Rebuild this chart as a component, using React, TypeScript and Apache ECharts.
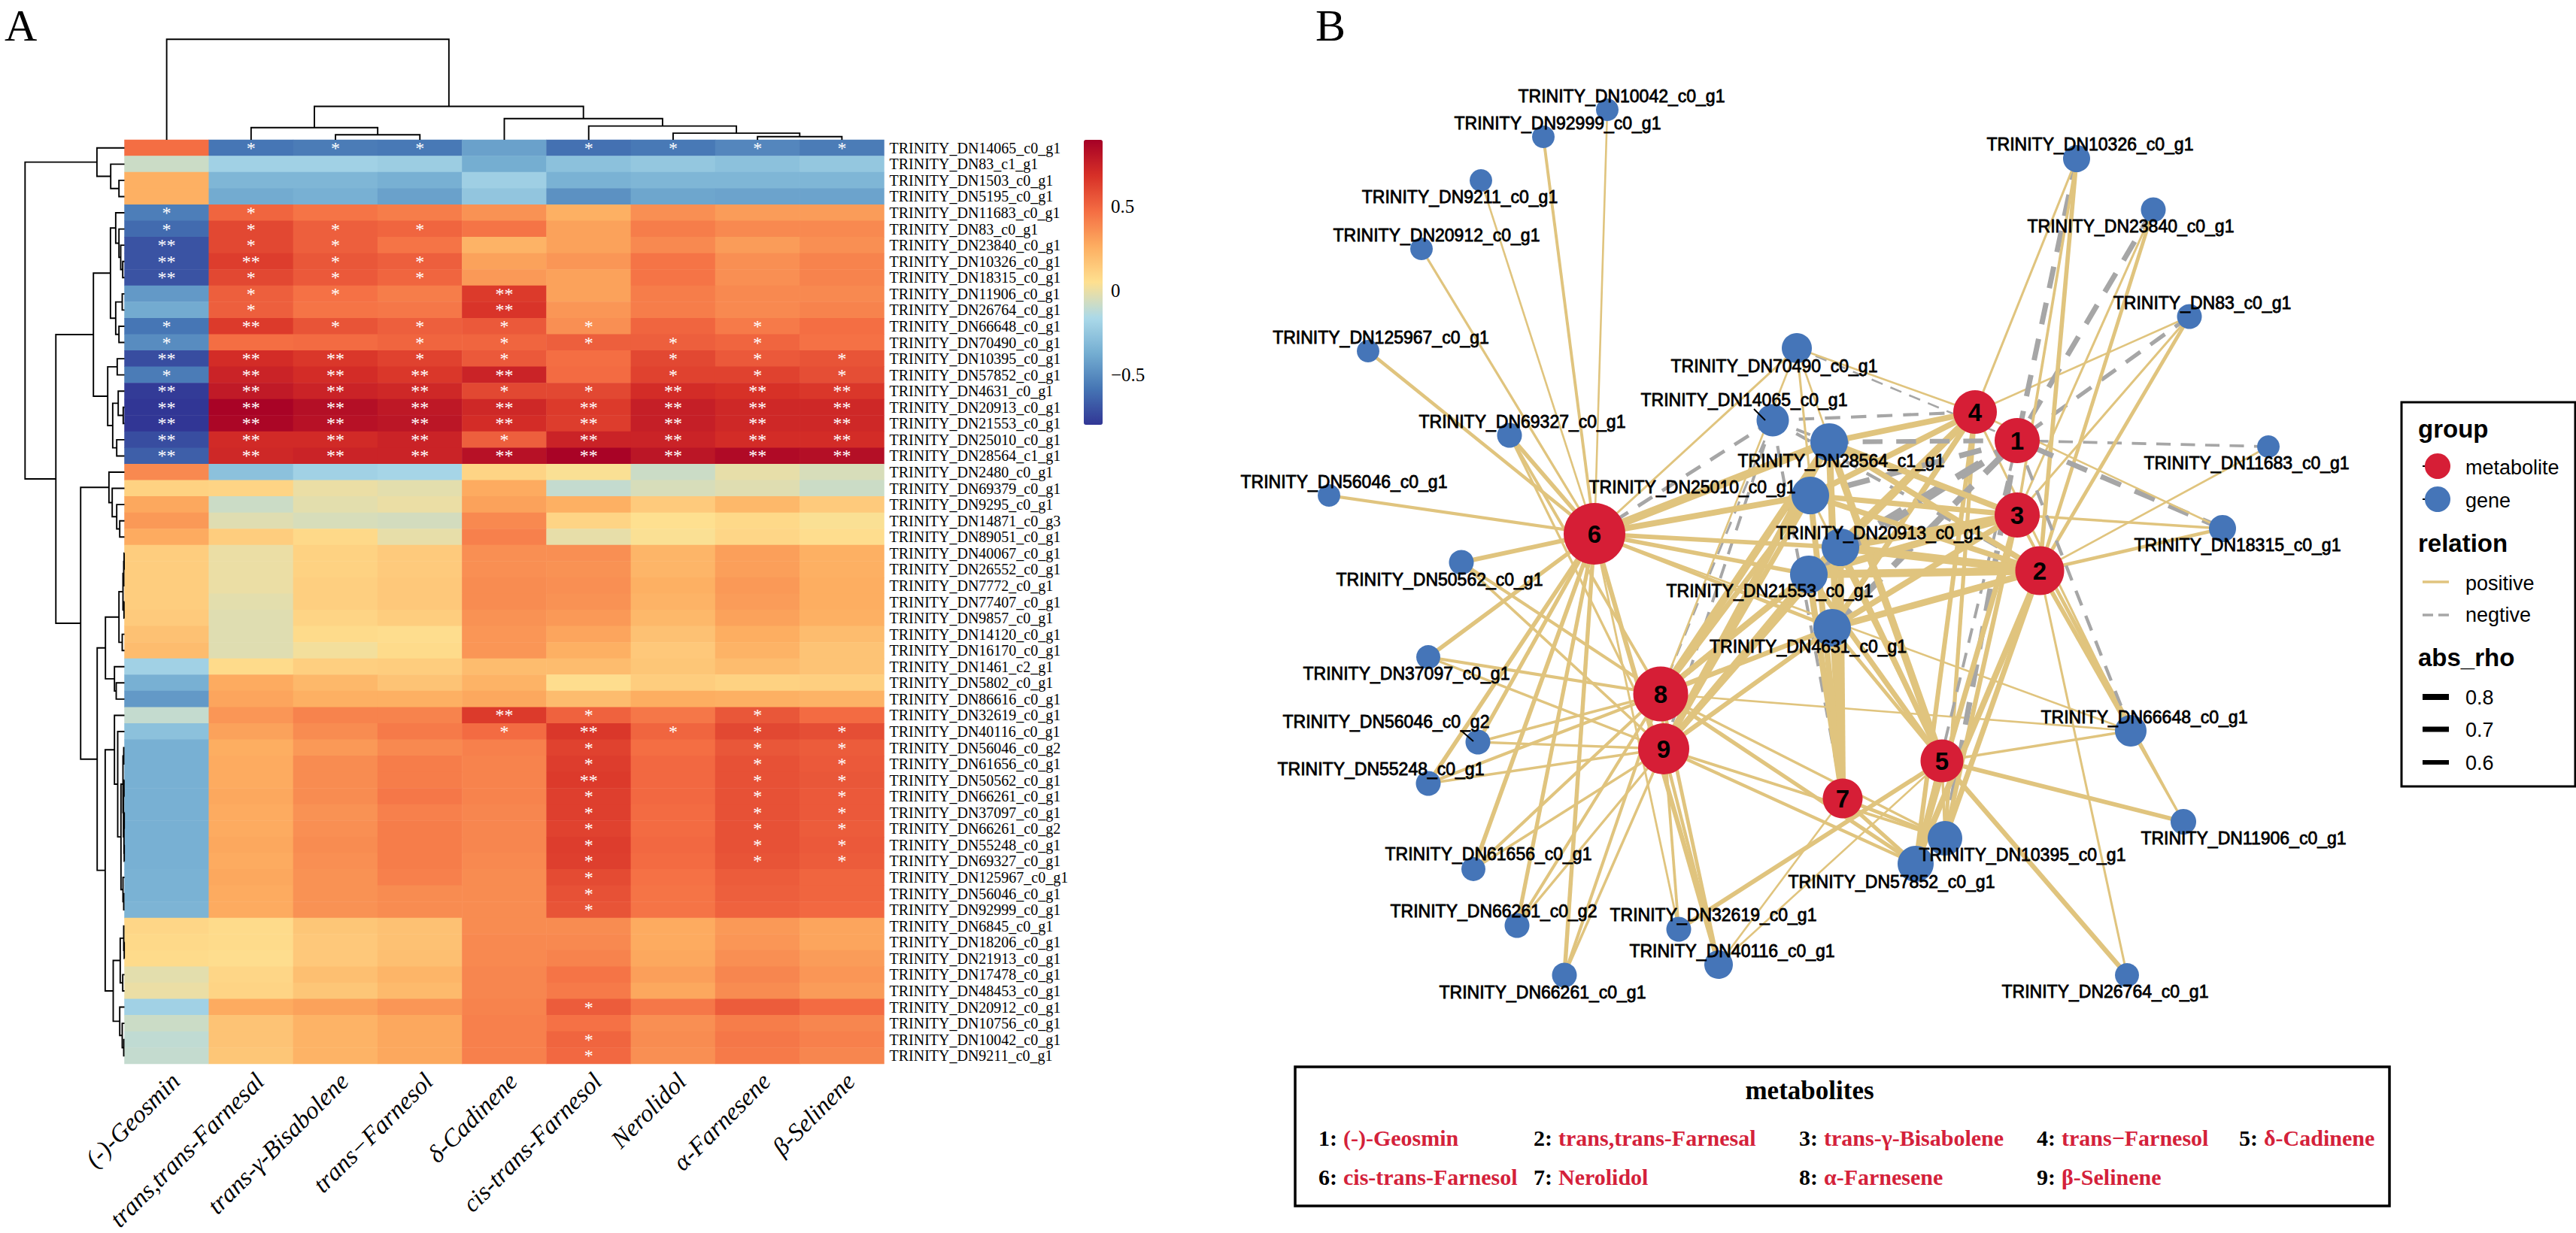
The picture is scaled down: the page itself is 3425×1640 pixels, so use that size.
import React, { useEffect, useRef } from "react";
import * as echarts from "echarts";

const SERIF = "Liberation Serif";
const SANS = "Liberation Sans";

const metabolites = ["(-)-Geosmin", "trans,trans-Farnesal", "trans-γ-Bisabolene", "trans−Farnesol", "δ-Cadinene", "cis-trans-Farnesol", "Nerolidol", "α-Farnesene", "β-Selinene"];
const geneLabels = [
  "TRINITY_DN14065_c0_g1", "TRINITY_DN83_c1_g1", "TRINITY_DN1503_c0_g1", "TRINITY_DN5195_c0_g1", "TRINITY_DN11683_c0_g1", "TRINITY_DN83_c0_g1",
  "TRINITY_DN23840_c0_g1", "TRINITY_DN10326_c0_g1", "TRINITY_DN18315_c0_g1", "TRINITY_DN11906_c0_g1", "TRINITY_DN26764_c0_g1", "TRINITY_DN66648_c0_g1",
  "TRINITY_DN70490_c0_g1", "TRINITY_DN10395_c0_g1", "TRINITY_DN57852_c0_g1", "TRINITY_DN4631_c0_g1", "TRINITY_DN20913_c0_g1", "TRINITY_DN21553_c0_g1",
  "TRINITY_DN25010_c0_g1", "TRINITY_DN28564_c1_g1", "TRINITY_DN2480_c0_g1", "TRINITY_DN69379_c0_g1", "TRINITY_DN9295_c0_g1", "TRINITY_DN14871_c0_g3",
  "TRINITY_DN89051_c0_g1", "TRINITY_DN40067_c0_g1", "TRINITY_DN26552_c0_g1", "TRINITY_DN7772_c0_g1", "TRINITY_DN77407_c0_g1", "TRINITY_DN9857_c0_g1",
  "TRINITY_DN14120_c0_g1", "TRINITY_DN16170_c0_g1", "TRINITY_DN1461_c2_g1", "TRINITY_DN5802_c0_g1", "TRINITY_DN86616_c0_g1", "TRINITY_DN32619_c0_g1",
  "TRINITY_DN40116_c0_g1", "TRINITY_DN56046_c0_g2", "TRINITY_DN61656_c0_g1", "TRINITY_DN50562_c0_g1", "TRINITY_DN66261_c0_g1", "TRINITY_DN37097_c0_g1",
  "TRINITY_DN66261_c0_g2", "TRINITY_DN55248_c0_g1", "TRINITY_DN69327_c0_g1", "TRINITY_DN125967_c0_g1", "TRINITY_DN56046_c0_g1", "TRINITY_DN92999_c0_g1",
  "TRINITY_DN6845_c0_g1", "TRINITY_DN18206_c0_g1", "TRINITY_DN21913_c0_g1", "TRINITY_DN17478_c0_g1", "TRINITY_DN48453_c0_g1", "TRINITY_DN20912_c0_g1",
  "TRINITY_DN10756_c0_g1", "TRINITY_DN10042_c0_g1", "TRINITY_DN9211_c0_g1",
];
const rho = [
  [0.47, -0.58, -0.56, -0.57, -0.42, -0.6, -0.57, -0.52, -0.56],
  [-0.08, -0.2, -0.2, -0.22, -0.37, -0.28, -0.25, -0.28, -0.25],
  [0.25, -0.33, -0.33, -0.36, -0.21, -0.35, -0.33, -0.33, -0.33],
  [0.25, -0.38, -0.36, -0.42, -0.26, -0.48, -0.4, -0.41, -0.41],
  [-0.55, 0.5, 0.45, 0.42, 0.35, 0.25, 0.36, 0.32, 0.32],
  [-0.62, 0.6, 0.52, 0.5, 0.45, 0.3, 0.42, 0.38, 0.38],
  [-0.7, 0.6, 0.52, 0.45, 0.24, 0.3, 0.38, 0.32, 0.36],
  [-0.7, 0.64, 0.55, 0.52, 0.3, 0.34, 0.45, 0.36, 0.4],
  [-0.7, 0.6, 0.54, 0.5, 0.33, 0.3, 0.45, 0.36, 0.4],
  [-0.45, 0.52, 0.46, 0.42, 0.65, 0.3, 0.42, 0.38, 0.38],
  [-0.38, 0.52, 0.45, 0.44, 0.67, 0.34, 0.42, 0.38, 0.4],
  [-0.58, 0.65, 0.56, 0.52, 0.54, 0.36, 0.5, 0.43, 0.47],
  [-0.5, 0.47, 0.48, 0.5, 0.5, 0.52, 0.52, 0.5, 0.46],
  [-0.72, 0.7, 0.66, 0.62, 0.54, 0.47, 0.6, 0.54, 0.56],
  [-0.56, 0.74, 0.7, 0.66, 0.74, 0.48, 0.62, 0.62, 0.58],
  [-0.78, 0.78, 0.74, 0.72, 0.6, 0.6, 0.7, 0.68, 0.66],
  [-0.8, 0.88, 0.83, 0.79, 0.72, 0.65, 0.76, 0.72, 0.72],
  [-0.8, 0.87, 0.82, 0.8, 0.7, 0.64, 0.76, 0.72, 0.72],
  [-0.72, 0.71, 0.71, 0.74, 0.52, 0.74, 0.74, 0.7, 0.7],
  [-0.66, 0.72, 0.74, 0.74, 0.82, 0.88, 0.8, 0.85, 0.83],
  [0.38, -0.28, -0.2, -0.18, 0.1, 0.04, -0.08, -0.01, -0.05],
  [0.11, 0.1, 0, -0.02, 0.27, -0.1, -0.05, -0.03, -0.08],
  [0.28, -0.08, -0.02, 0, 0.3, 0.25, 0.14, 0.22, 0.14],
  [0.33, -0.03, -0.05, -0.06, 0.38, 0.1, 0.05, 0.08, 0.04],
  [0.27, 0.13, 0.08, -0.01, 0.41, -0.01, 0.04, 0.09, 0.06],
  [0.13, 0, 0.11, 0.14, 0.36, 0.36, 0.23, 0.31, 0.25],
  [0.13, 0, 0.11, 0.14, 0.36, 0.35, 0.23, 0.31, 0.25],
  [0.13, 0, 0.12, 0.15, 0.37, 0.36, 0.25, 0.33, 0.26],
  [0.13, -0.02, 0.12, 0.15, 0.37, 0.35, 0.24, 0.32, 0.26],
  [0.14, -0.03, 0.1, 0.13, 0.35, 0.33, 0.22, 0.3, 0.25],
  [0.18, -0.03, 0.07, 0.06, 0.34, 0.29, 0.18, 0.26, 0.2],
  [0.2, -0.03, 0.02, 0.07, 0.34, 0.25, 0.15, 0.24, 0.17],
  [-0.2, 0.07, 0.12, 0.13, 0.2, 0.2, 0.16, 0.2, 0.17],
  [-0.36, 0.27, 0.22, 0.17, 0.24, 0.06, 0.13, 0.11, 0.12],
  [-0.45, 0.29, 0.25, 0.25, 0.28, 0.2, 0.26, 0.25, 0.24],
  [-0.1, 0.34, 0.4, 0.4, 0.65, 0.51, 0.44, 0.55, 0.48],
  [-0.28, 0.3, 0.37, 0.43, 0.48, 0.66, 0.5, 0.6, 0.58],
  [-0.36, 0.26, 0.33, 0.38, 0.41, 0.62, 0.47, 0.55, 0.53],
  [-0.36, 0.27, 0.37, 0.42, 0.4, 0.64, 0.49, 0.57, 0.54],
  [-0.36, 0.27, 0.37, 0.42, 0.4, 0.65, 0.49, 0.57, 0.55],
  [-0.36, 0.28, 0.37, 0.44, 0.4, 0.63, 0.49, 0.57, 0.54],
  [-0.36, 0.27, 0.35, 0.41, 0.39, 0.63, 0.48, 0.57, 0.54],
  [-0.36, 0.27, 0.36, 0.42, 0.39, 0.62, 0.48, 0.57, 0.53],
  [-0.36, 0.28, 0.37, 0.42, 0.39, 0.64, 0.49, 0.57, 0.54],
  [-0.36, 0.27, 0.36, 0.42, 0.38, 0.63, 0.48, 0.56, 0.53],
  [-0.35, 0.28, 0.35, 0.41, 0.37, 0.59, 0.46, 0.53, 0.5],
  [-0.35, 0.27, 0.35, 0.37, 0.37, 0.57, 0.45, 0.52, 0.5],
  [-0.34, 0.27, 0.35, 0.37, 0.37, 0.56, 0.45, 0.51, 0.49],
  [0.09, 0.07, 0.16, 0.18, 0.37, 0.37, 0.27, 0.33, 0.29],
  [0.08, 0.07, 0.15, 0.18, 0.38, 0.38, 0.27, 0.34, 0.29],
  [0.07, 0.06, 0.15, 0.19, 0.38, 0.4, 0.28, 0.36, 0.32],
  [-0.02, 0.09, 0.19, 0.23, 0.39, 0.45, 0.31, 0.39, 0.34],
  [0, 0.1, 0.16, 0.21, 0.39, 0.43, 0.28, 0.37, 0.32],
  [-0.2, 0.27, 0.3, 0.34, 0.4, 0.53, 0.44, 0.53, 0.48],
  [-0.08, 0.17, 0.24, 0.28, 0.41, 0.46, 0.36, 0.42, 0.39],
  [-0.11, 0.17, 0.24, 0.28, 0.41, 0.5, 0.37, 0.44, 0.41],
  [-0.1, 0.16, 0.24, 0.28, 0.41, 0.49, 0.36, 0.43, 0.39],
];
// Significance marks of each row: one digit per metabolite (0 none, 1 *, 2 **).
const significance = [
  "011101111", "000000000", "000000000", "000000000", "110000000", "111100000", "211000000", "221100000", "211100000", "011020000",
  "010020000", "121111010", "100111110", "222110111", "122220111", "222211222", "222222222", "222222222", "222212222", "222222222",
  "000000000", "000000000", "000000000", "000000000", "000000000", "000000000", "000000000", "000000000", "000000000", "000000000",
  "000000000", "000000000", "000000000", "000000000", "000000000", "000021010", "000012111", "000001011", "000001011", "000002011",
  "000001011", "000001011", "000001011", "000001011", "000001011", "000001000", "000001000", "000001000", "000000000", "000000000",
  "000000000", "000000000", "000000000", "000001000", "000000000", "000001000", "000001000",
];

type Tree = number | [number, Tree, Tree];
const columnTree: Tree = [255, 0, [85, [31, 1, [13, 2, 3]], [54, 4, [35, 5, [17, 6, [8, 7, 8]]]]]];
const rowTree: Tree = [397,
  [110, 0, [55, 1, [22, 2, 3]]],
  [274,
    [124,
      [56, [35, 4, [22, 5, [15, 6, [7, 7, 8]]]], [35, [9, 9, 10], [22, 11, 12]]],
      [67, [29, 13, 14], [47, [25, 15, [5, 16, 17]], [31, 18, 19]]]],
    [175,
      [62, 20, [49, 21, [31, 22, [19, 23, 24]]]],
      [109,
        [76, [22, [6, [3, [1.5, 25, 26], 27], [2, 28, 29]], [9, 30, 31]], [40, 32, [33, 33, 34]]],
        [77,
          [40, 35, [27, 36, [14, [6, [3, 37, 38], [4, [2, 39, 40], [2, [1, 41, 42], [1, 43, 44]]]], [6, 45, [3, 46, 47]]]]],
          [45, [17, [3, 48, [1, 49, 50]], [7, 51, 52]], [19, 53, [9, 54, [3, 55, 56]]]]]]]]];

// Network layout: [x, y, node size, label x, label y]
const metaboliteLayout: number[][] = [
  [2682, 586, 60], [2712, 759, 65], [2682, 685, 60], [2626, 548, 58], [2582, 1012, 57],
  [2120, 710, 82], [2450, 1062, 53], [2208, 923, 73], [2212, 996, 68],
];
const geneLayout: Record<string, number[]> = {
  "TRINITY_DN10042_c0_g1": [2137, 146, 30, 2156, 128], "TRINITY_DN92999_c0_g1": [2052, 182, 30, 2071, 164],
  "TRINITY_DN9211_c0_g1": [1969, 240, 30, 1941, 262], "TRINITY_DN20912_c0_g1": [1890, 331, 30, 1910, 313],
  "TRINITY_DN125967_c0_g1": [1819, 467, 30, 1836, 449], "TRINITY_DN69327_c0_g1": [2007, 579, 33, 2024, 561],
  "TRINITY_DN56046_c0_g1": [1767, 659, 30, 1787, 641], "TRINITY_DN50562_c0_g1": [1943, 748, 33, 1914, 771],
  "TRINITY_DN70490_c0_g1": [2389, 463, 40, 2359, 487], "TRINITY_DN14065_c0_g1": [2357, 559, 43, 2319, 532],
  "TRINITY_DN28564_c1_g1": [2432, 588, 50, 2448, 613], "TRINITY_DN25010_c0_g1": [2407, 659, 50, 2250, 648],
  "TRINITY_DN20913_c0_g1": [2447, 728, 50, 2499, 709], "TRINITY_DN21553_c0_g1": [2405, 764, 50, 2353, 786],
  "TRINITY_DN4631_c0_g1": [2436, 835, 50, 2404, 860], "TRINITY_DN10326_c0_g1": [2761, 211, 36, 2779, 192],
  "TRINITY_DN23840_c0_g1": [2863, 279, 33, 2833, 301], "TRINITY_DN83_c0_g1": [2911, 421, 33, 2928, 403],
  "TRINITY_DN11683_c0_g1": [3016, 594, 30, 2987, 616], "TRINITY_DN18315_c0_g1": [2955, 703, 36, 2975, 725],
  "TRINITY_DN37097_c0_g1": [1899, 874, 32, 1870, 896], "TRINITY_DN56046_c0_g2": [1965, 987, 33, 1843, 960],
  "TRINITY_DN55248_c0_g1": [1899, 1042, 33, 1836, 1023], "TRINITY_DN61656_c0_g1": [1959, 1156, 32, 1979, 1136],
  "TRINITY_DN66261_c0_g2": [2017, 1231, 33, 1986, 1212], "TRINITY_DN66261_c0_g1": [2080, 1297, 33, 2051, 1320],
  "TRINITY_DN32619_c0_g1": [2232, 1236, 33, 2278, 1217], "TRINITY_DN40116_c0_g1": [2285, 1283, 38, 2303, 1265],
  "TRINITY_DN57852_c0_g1": [2547, 1149, 48, 2515, 1173], "TRINITY_DN10395_c0_g1": [2586, 1115, 46, 2689, 1137],
  "TRINITY_DN66648_c0_g1": [2833, 972, 42, 2851, 954], "TRINITY_DN11906_c0_g1": [2903, 1093, 34, 2983, 1115],
  "TRINITY_DN26764_c0_g1": [2828, 1297, 32, 2799, 1319],
};

const colorStops = ["#313695", "#4575B4", "#74ADD1", "#ABD9E9", "#FEE090", "#FDAE61", "#F46D43", "#D73027", "#A50026"];
const colorMin = -0.797;
const colorMax = 0.895;
const colorbarTicks: [number, string][] = [[0.5, "0.5"], [0, "0"], [-0.5, "−0.5"]];

const RED = "#D61E36";
const BLUE = "#4575B8";
const TAN = "#E0C47E";
const GREY = "#A6A6A6";

type Segment = number[];
function walk(tree: Tree, out: Segment[]): { pos: number; h: number } {
  if (typeof tree === "number") return { pos: tree + 0.5, h: 0 };
  const a = walk(tree[1], out);
  const b = walk(tree[2], out);
  out.push([a.pos, a.h, b.pos, b.h, tree[0]]);
  return { pos: (a.pos + b.pos) / 2, h: tree[0] };
}
const columnSegments: Segment[] = [];
walk(columnTree, columnSegments);
const rowSegments: Segment[] = [];
walk(rowTree, rowSegments);

function treeSeries(data: Segment[], axisIndex: number, vertical: boolean) {
  return {
    type: "custom",
    xAxisIndex: axisIndex,
    yAxisIndex: axisIndex,
    silent: true,
    clip: false,
    data,
    renderItem: (_: any, api: any) => {
      const [p1, h1, p2, h2, h] = [0, 1, 2, 3, 4].map((i) => api.value(i));
      const pt = (p: number, v: number) => api.coord(vertical ? [p, v] : [v, p]);
      return {
        type: "polyline",
        shape: { points: [pt(p1, h1), pt(p1, h), pt(p2, h), pt(p2, h2)] },
        style: { stroke: "#000", fill: "none", lineWidth: 1.9 },
      };
    },
  };
}

const heatData: number[][] = [];
rho.forEach((row, r) => row.forEach((v, c) => heatData.push([c, r, v])));

const graphNodes: any[] = [];
metaboliteLayout.forEach((m, i) => {
  graphNodes.push({
    name: String(i + 1),
    value: [m[0], m[1]],
    symbolSize: m[2],
    itemStyle: { color: RED },
    label: { show: true, position: "inside", formatter: String(i + 1), fontFamily: SANS, fontSize: 33, fontWeight: "bold", color: "#000" },
  });
});
const graphLinks: any[] = [];
geneLabels.forEach((g, r) => {
  const sig = significance[r];
  if (!/[12]/.test(sig)) return;
  const l = geneLayout[g];
  graphNodes.push({
    name: g,
    value: [l[0], l[1]],
    symbolSize: l[2],
    itemStyle: { color: BLUE },
    label: {
      show: true, position: "inside", offset: [l[3] - l[0], l[4] - l[1]], formatter: g,
      fontFamily: SANS, fontSize: 23, color: "#000", textBorderColor: "#000", textBorderWidth: 0.8,
    },
  });
  sig.split("").forEach((s, c) => {
    if (s === "0") return;
    const v = rho[r][c];
    const w = Math.max(2.6, 2.6 + (Math.abs(v) - 0.5) * 22);
    graphLinks.push({
      source: g,
      target: String(c + 1),
      lineStyle: v > 0
        ? { color: TAN, width: w, type: "solid", opacity: 1, curveness: 0 }
        : { color: GREY, width: w, type: [w * 3 + 8, w * 2 + 6], opacity: 1, curveness: 0 },
    });
  });
});

const text = (x: number, y: number, t: string, style: any, extra: any = {}) => ({
  type: "text", x, y, z: 50, silent: true,
  style: { text: t, fill: "#000", textVerticalAlign: "middle", verticalAlign: "middle", ...style }, ...extra,
});
const seg = (x1: number, y1: number, x2: number, y2: number, style: any) => ({
  type: "line", z: 50, silent: true, shape: { x1, y1, x2, y2 }, style: { stroke: "#000", ...style },
});

const legendTitle = { fontFamily: SANS, fontWeight: "bold", fontSize: 33 };
const legendText = { fontFamily: SANS, fontSize: 27 };
const colX = [1753, 2039, 2392, 2708, 2977];
const nameX = [1786, 2072, 2425, 2741, 3010];
const metaboliteBoxItems: any[] = metabolites.map((m, i) => {
  const col = i < 5 ? i : i - 5;
  const y = i < 5 ? 1513 : 1565;
  const style = { fontFamily: SERIF, fontWeight: "bold", fontSize: 30 };
  return [
    text(colX[col], y, `${i + 1}:`, style),
    text(nameX[col], y, m, { ...style, fill: "#D4213A" }),
  ];
}).flat();

const graphics: any[] = [
  text(6, 34, "A", { fontFamily: SERIF, fontSize: 60 }),
  text(1749, 34, "B", { fontFamily: SERIF, fontSize: 60 }),
  ...colorbarTicks.map(([v, t]) => text(1477, 186 + ((colorMax - v) / (colorMax - colorMin)) * 379, t, { fontFamily: SERIF, fontSize: 25 })),
  seg(2332, 544, 2347, 559, { lineWidth: 2 }),
  seg(1943, 972, 1959, 986, { lineWidth: 2 }),
  { type: "rect", z: 40, silent: true, shape: { x: 3193, y: 535, width: 231, height: 511 }, style: { fill: "#fff", stroke: "#000", lineWidth: 3 } },
  text(3215, 570, "group", legendTitle),
  seg(3221, 620, 3241, 620, { lineWidth: 2 }),
  { type: "circle", z: 50, silent: true, shape: { cx: 3241, cy: 620, r: 17 }, style: { fill: RED } },
  text(3278, 622, "metabolite", legendText),
  seg(3221, 664, 3241, 664, { lineWidth: 2 }),
  { type: "circle", z: 50, silent: true, shape: { cx: 3241, cy: 664, r: 17 }, style: { fill: BLUE } },
  text(3278, 666, "gene", legendText),
  text(3215, 722, "relation", legendTitle),
  seg(3221, 774, 3256, 774, { stroke: TAN, lineWidth: 3.5 }),
  text(3278, 776, "positive", legendText),
  seg(3221, 818, 3256, 818, { stroke: GREY, lineWidth: 3.5, lineDash: [14, 7] }),
  text(3278, 818, "negtive", legendText),
  text(3215, 874, "abs_rho", legendTitle),
  seg(3221, 927, 3256, 927, { lineWidth: 8 }),
  text(3278, 928, "0.8", legendText),
  seg(3221, 970, 3256, 970, { lineWidth: 7 }),
  text(3278, 971, "0.7", legendText),
  seg(3221, 1014, 3256, 1014, { lineWidth: 6 }),
  text(3278, 1015, "0.6", legendText),
  { type: "rect", z: 40, silent: true, shape: { x: 1722, y: 1419, width: 1455, height: 185 }, style: { fill: "#fff", stroke: "#000", lineWidth: 3.5 } },
  text(2406, 1450, "metabolites", { fontFamily: SERIF, fontWeight: "bold", fontSize: 35, textAlign: "center", align: "center" }),
  ...metaboliteBoxItems,
];

export default function App() {
  const ref = useRef<HTMLDivElement>(null);
  useEffect(() => {
    document.body.style.margin = "0";
    document.body.style.overflow = "hidden";
    const chart = echarts.init(ref.current!, undefined, { renderer: "svg" });
    chart.setOption({
      animation: false,
      backgroundColor: "#fff",
      grid: [
        { left: 165.5, top: 186, width: 1010, height: 1229, outerBoundsMode: "none" },
        { left: 165.5, top: 52.3, width: 1010, height: 133.7, outerBoundsMode: "none" },
        { left: 20, top: 186, width: 145.5, height: 1229, outerBoundsMode: "none" },
        { left: 0, top: 0, width: 3425, height: 1640, outerBoundsMode: "none" },
      ],
      xAxis: [
        {
          gridIndex: 0, type: "category", data: metabolites, splitLine: { show: false }, axisLine: { show: false }, axisTick: { show: false },
          axisLabel: { interval: 0, rotate: 45, margin: 6, verticalAlign: "top", fontFamily: SERIF, fontStyle: "italic", fontSize: 33, color: "#000" },
        },
        { gridIndex: 1, type: "value", min: 0, max: 9, show: false },
        { gridIndex: 2, type: "value", min: 0, max: 437, inverse: true, show: false },
        { gridIndex: 3, type: "value", min: 0, max: 3425, show: false },
      ],
      yAxis: [
        {
          gridIndex: 0, type: "category", inverse: true, position: "right", data: geneLabels, splitLine: { show: false }, axisLine: { show: false }, axisTick: { show: false },
          axisLabel: { interval: 0, margin: 7, fontFamily: SERIF, fontSize: 20, color: "#000" },
        },
        { gridIndex: 1, type: "value", min: 0, max: 255, show: false },
        { gridIndex: 2, type: "value", min: 0, max: 57, inverse: true, show: false },
        { gridIndex: 3, type: "value", min: 0, max: 1640, inverse: true, show: false },
      ],
      visualMap: {
        type: "continuous", seriesIndex: 0, dimension: 2, min: colorMin, max: colorMax, calculable: false, hoverLink: false,
        left: 1441, top: 186, itemWidth: 25, itemHeight: 379, padding: 0, text: undefined, showLabel: false,
        inRange: { color: colorStops },
      },
      series: [
        {
          type: "heatmap", xAxisIndex: 0, yAxisIndex: 0, data: heatData, silent: true, progressive: 0,
          label: {
            show: true, color: "#fff", fontFamily: SERIF, fontSize: 24,
            formatter: (p: any) => "*".repeat(Number(significance[p.data[1]][p.data[0]])),
          },
        },
        treeSeries(columnSegments, 1, true),
        treeSeries(rowSegments, 2, false),
        {
          type: "graph", layout: "none", coordinateSystem: "cartesian2d", xAxisIndex: 3, yAxisIndex: 3, silent: true,
          symbol: "circle", data: graphNodes, links: graphLinks, edgeSymbol: ["none", "none"], roam: false,
        },
      ],
      graphic: graphics,
    });
    return () => chart.dispose();
  }, []);
  return <div ref={ref} style={{ width: 3425, height: 1640 }} />;
}
